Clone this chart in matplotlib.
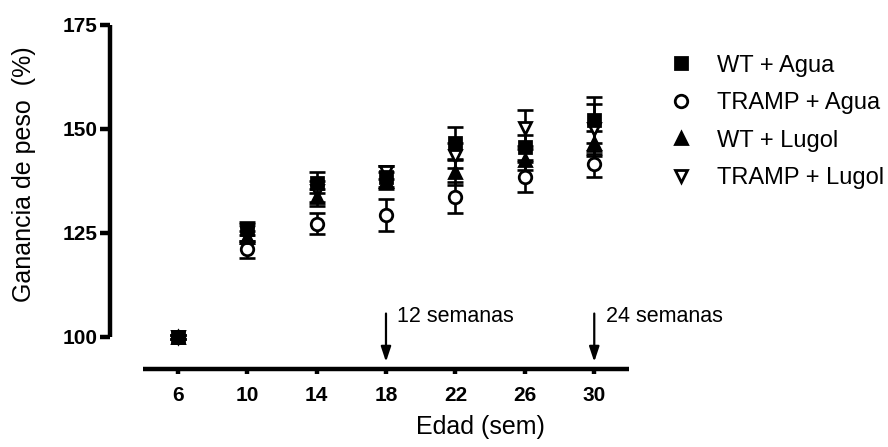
import numpy as np
import matplotlib
matplotlib.use('Agg')
import matplotlib.pyplot as plt
from matplotlib.lines import Line2D

plt.rcParams['font.family'] = ['Liberation Sans', 'DejaVu Sans']

# semanas de edad
weeks = [6, 10, 14, 18, 22, 26, 30]

# ganancia de peso (%) media y error por grupo
wt_agua = [100, 126.0, 137.0, 138.5, 146.5, 145.5, 152.0]
wt_agua_err = [0.5, 1.5, 2.5, 2.5, 3.8, 3.0, 5.5]
tramp_agua = [100, 121.0, 127.2, 129.2, 133.5, 138.4, 141.5]
tramp_agua_err = [0.5, 2.0, 2.5, 3.8, 3.8, 3.6, 3.2]
wt_lugol = [100, 124.0, 133.5, 137.5, 139.5, 142.5, 146.5]
wt_lugol_err = [0.5, 1.5, 2.0, 2.0, 3.0, 2.5, 3.0]
tramp_lugol = [100, 125.0, 135.0, 139.5, 143.5, 150.2, 150.0]
tramp_lugol_err = [0.5, 2.0, 2.5, 1.5, 3.0, 4.3, 6.0]

labels = ['WT + Agua', 'TRAMP + Agua', 'WT + Lugol', 'TRAMP + Lugol']

fig = plt.figure(figsize=(8.88, 4.47), dpi=100)
ax = fig.add_axes([0.1239, 0.1756, 0.5844, 0.7695])

styles = [
    dict(marker='s', mfc='black', z=6),
    dict(marker='o', mfc='white', z=3),
    dict(marker='^', mfc='black', z=5),
    dict(marker='v', mfc='white', z=4),
]
series = [(wt_agua, wt_agua_err), (tramp_agua, tramp_agua_err),
          (wt_lugol, wt_lugol_err), (tramp_lugol, tramp_lugol_err)]

for (vals, errs), st in zip(series, styles):
    ax.errorbar(weeks, vals, yerr=errs, fmt='none', ecolor='black',
                elinewidth=1.9, capsize=5.5, capthick=1.9, zorder=2)
    ax.plot(weeks, vals, linestyle='none', marker=st['marker'], ms=9,
            mfc=st['mfc'], mec='black', mew=2.0, zorder=st['z'], clip_on=False)

ax.set_xlim(2.1, 32)
ax.set_ylim(92.4, 175)

for s in ['top', 'right']:
    ax.spines[s].set_visible(False)
ax.spines['left'].set_bounds(100, 175)
ax.spines['bottom'].set_bounds(4, 32)
for s in ['left', 'bottom']:
    ax.spines[s].set_linewidth(3.2)
    ax.spines[s].set_capstyle('butt')

ax.set_xticks(weeks)
ax.set_yticks([100, 125, 150, 175])
ax.tick_params(axis='y', length=7, width=3.2, pad=2, labelsize=15)
ax.tick_params(axis='x', length=3.5, width=3.2, pad=9, labelsize=15)
for lab in ax.get_xticklabels() + ax.get_yticklabels():
    lab.set_fontweight('bold')

fig.text(0.5407, 1 - 427 / 447, 'Edad (sem)', ha='center', va='center',
         fontsize=18)
fig.text(24 / 888, 1 - 174 / 447, 'Ganancia de peso  (%)', ha='center',
         va='center', rotation=90, fontsize=18)

# flechas de 12 y 24 semanas
for xw, txt in [(18, '12 semanas'), (30, '24 semanas')]:
    ax.annotate('', xy=(xw, 94.0), xytext=(xw, 105.6),
                arrowprops=dict(arrowstyle='-|>,head_length=0.9,head_width=0.3',
                                color='black', lw=1.6, shrinkA=0, shrinkB=0))
    ax.text(xw + 0.65, 105.0, txt, ha='left', va='center', fontsize=15.5)

handles = [Line2D([], [], linestyle='none', marker=st['marker'], ms=9,
                  mfc=st['mfc'], mec='black', mew=2.0) for st in styles]
fig.legend(handles, labels, loc='upper left', bbox_to_anchor=(0.754, 0.878),
           frameon=False, fontsize=17, handlelength=1.0, handletextpad=1.0,
           labelspacing=0.66, borderpad=0, borderaxespad=0)

fig.savefig('out.png', dpi=100)
plt.close(fig)
